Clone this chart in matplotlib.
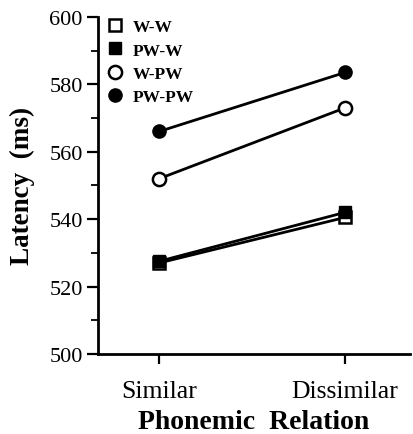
import matplotlib.pyplot as plt
from matplotlib.ticker import MultipleLocator

plt.rcParams['font.family'] = ['Liberation Serif', 'DejaVu Serif']

# conditions on the x axis
relations = ['Similar', 'Dissimilar']
# mean latency (ms) for each prime-target type
ww = [527, 540.5]
pww = [527.5, 542]
wpw = [552, 573]
pwpw = [566, 583.5]

fig = plt.figure(figsize=(4.13, 4.35), dpi=100)
ax = fig.add_axes([0.237, 0.184, 0.756, 0.775])

x = [0, 1]
ax.plot(x, ww, c='black', lw=2, marker='s', ms=9, mfc='white', mec='black', mew=1.8, label='W-W')
ax.plot(x, pww, c='black', lw=2, marker='s', ms=9, mfc='black', mec='black', label='PW-W')
ax.plot(x, wpw, c='black', lw=2, marker='o', ms=9.5, mfc='white', mec='black', mew=1.8, label='W-PW')
ax.plot(x, pwpw, c='black', lw=2, marker='o', ms=9.5, mfc='black', mec='black', label='PW-PW')

ax.set_xlim(-0.33, 1.35)
ax.set_ylim(500, 600)
ax.set_xticks(x)
ax.set_xticklabels(relations, fontsize=18.5)
ax.yaxis.set_major_locator(MultipleLocator(20))
ax.yaxis.set_minor_locator(MultipleLocator(10))
ax.tick_params(axis='y', labelsize=16, length=8, width=1.6, direction='out', pad=3)
ax.tick_params(axis='y', which='minor', length=5, width=1.3)
ax.tick_params(axis='x', length=7, width=1.6, direction='out', pad=12)

for s in ['top', 'right']:
    ax.spines[s].set_visible(False)
ax.spines['left'].set_linewidth(2)
ax.spines['bottom'].set_linewidth(2)

ax.set_xlabel('Phonemic  Relation', fontsize=20, fontweight='bold', labelpad=5)
ax.set_ylabel('Latency  (ms)', fontsize=19.5, fontweight='bold', labelpad=10)

leg = ax.legend(loc='upper left', bbox_to_anchor=(-0.015, 1.04), frameon=False,
                handlelength=0.7, handletextpad=0.7, labelspacing=0.42,
                prop={'weight': 'bold', 'size': 12.5})
for h in leg.legend_handles:
    h.set_linestyle('none')

plt.savefig('out.png', dpi=100)
